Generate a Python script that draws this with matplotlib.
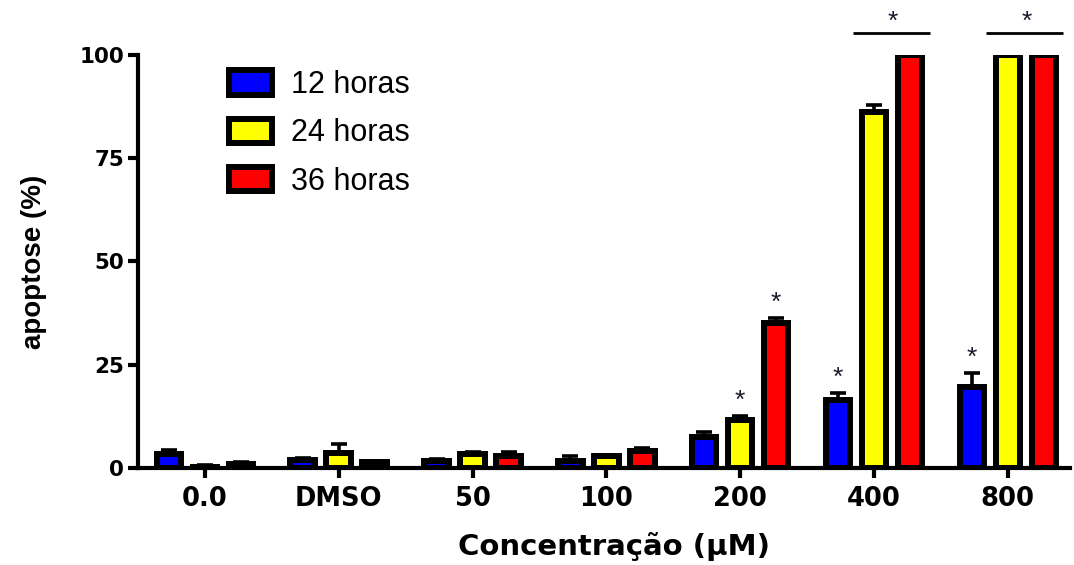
import matplotlib
matplotlib.use("Agg")
import matplotlib.pyplot as plt
import numpy as np

categories = ["0.0", "DMSO", "50", "100", "200", "400", "800"]
series_names = ["12 horas", "24 horas", "36 horas"]
colors = ["#0000FF", "#FFFF00", "#FF0000"]

mean_12h = [3.5, 2.0, 1.8, 1.8, 7.5, 16.5, 19.6]
err_12h = [0.8, 0.5, 0.4, 1.0, 1.2, 1.7, 3.4]
mean_24h = [0.3, 3.6, 3.5, 2.8, 11.6, 86.2, 100.0]
err_24h = [0.4, 2.2, 0.3, 0.2, 1.0, 1.8, 0.0]
mean_36h = [1.0, 1.5, 3.0, 4.0, 35.0, 100.0, 100.0]
err_36h = [0.5, 0.0, 0.8, 0.9, 1.3, 0.0, 0.0]

means = [mean_12h, mean_24h, mean_36h]
errs = [err_12h, err_24h, err_36h]

# significance marks: (series index, category index)
star_bars = [(1, 4), (2, 4), (0, 5), (0, 6)]
star_groups = [5, 6]

yticks = [0, 25, 50, 75, 100]

plt.rcParams['font.family'] = ['Liberation Sans', 'DejaVu Sans']

fig = plt.figure(figsize=(10.74, 5.65), dpi=100)
ax = fig.add_axes([0.1285, 0.1717, 0.8678, 0.731])

x = np.arange(len(categories))
step = 0.269
width = 0.183
lw_edge = 4.3

for i, (m, e, c, name) in enumerate(zip(means, errs, colors, series_names)):
    xs = x + (i - 1) * step
    ax.bar(xs, m, width=width, color=c, edgecolor='black', linewidth=lw_edge,
           label=name, zorder=2)
    ax.errorbar(xs, m, yerr=[np.zeros(len(m)), e], fmt='none', ecolor='black',
                elinewidth=2.6, capsize=6, capthick=2.6, zorder=3)

star_kw = dict(ha='center', va='center', fontsize=19, color='#1a1a2a',
               clip_on=False)
for (s, ci) in star_bars:
    xs = ci + (s - 1) * step
    top = means[s][ci] + errs[s][ci]
    ax.text(xs, top + 3.6, '*', **star_kw)

for gi in star_groups:
    ax.plot([gi - 0.16, gi + 0.415], [105.3, 105.3], color='black', lw=2,
            clip_on=False, solid_capstyle='butt')
    ax.text(gi + 0.14, 107.9, '*', **star_kw)

ax.set_xlim(-0.50, 6.465)
ax.set_ylim(0, 100)
ax.set_yticks(yticks)
ax.set_xticks(x)
ax.set_xticklabels(categories)

for sp in ['top', 'right']:
    ax.spines[sp].set_visible(False)
for sp in ['left', 'bottom']:
    ax.spines[sp].set_linewidth(3)

ax.tick_params(axis='both', which='major', direction='out', length=7, width=3)
ax.tick_params(axis='y', pad=3)
ax.tick_params(axis='x', pad=6)
for lab in ax.get_yticklabels():
    lab.set_fontweight('bold')
    lab.set_fontsize(15.5)
    lab.set_family(['DejaVu Sans'])
for lab in ax.get_xticklabels():
    lab.set_fontweight('bold')
    lab.set_fontsize(18.5)
    lab.set_family(['DejaVu Sans'])

ax.set_xlabel('Concentração (µM)', fontsize=21, fontweight='bold',
              family=['DejaVu Sans'])
ax.xaxis.set_label_coords(0.511, -0.155)
ax.set_ylabel('apoptose (%)', fontsize=20, fontweight='bold')
ax.yaxis.set_label_coords(-0.098, 0.5)

leg = ax.legend(loc='upper left', bbox_to_anchor=(229 / 1074, 1 - 70 / 565),
                bbox_transform=fig.transFigure, frameon=False,
                fontsize=22, handlelength=1.4, handleheight=0.85,
                handletextpad=0.62, labelspacing=0.6, borderaxespad=0.0,
                borderpad=0.0)

fig.savefig('out.png', dpi=100)
